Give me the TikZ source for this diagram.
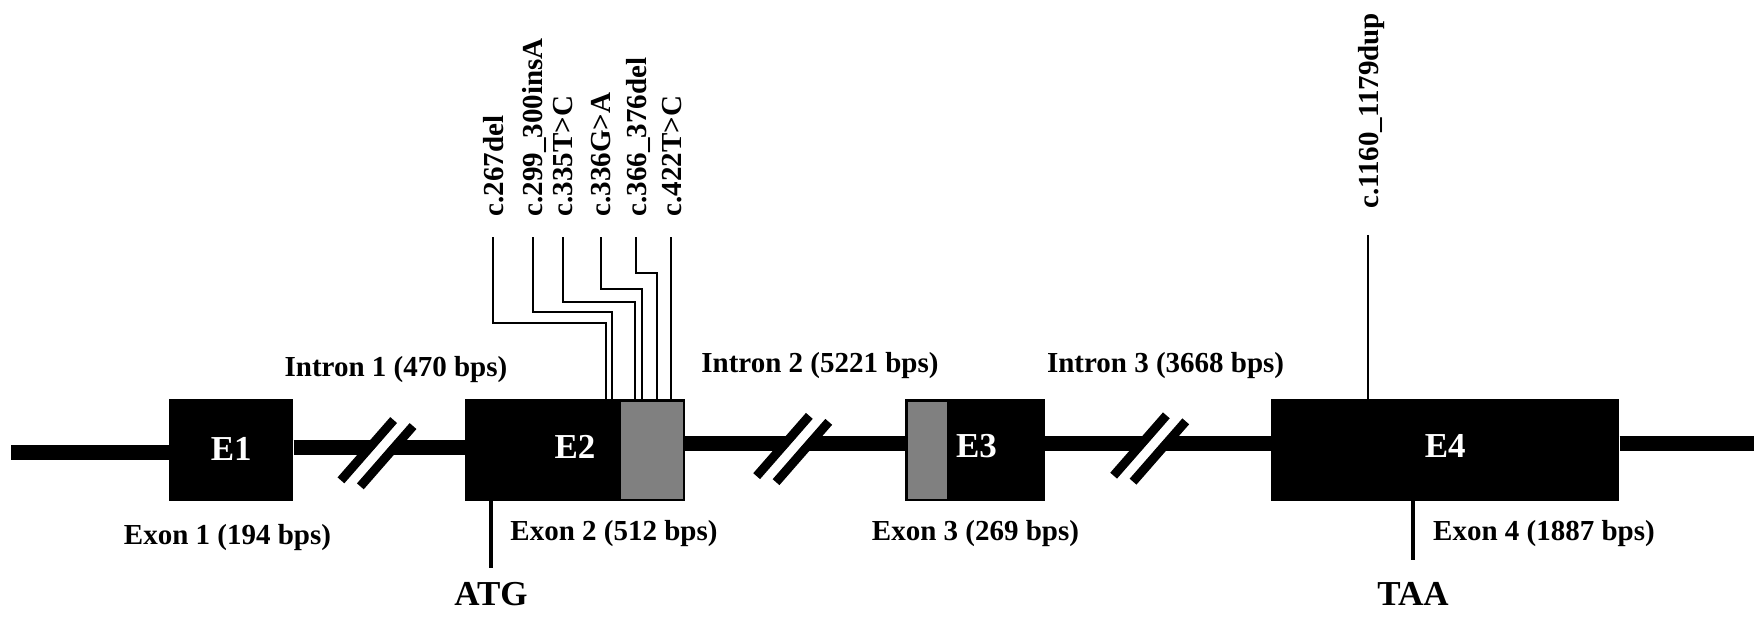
\documentclass[tikz,border=0pt]{standalone}
\usepackage{fontspec}
\setmainfont{Liberation Serif}
\definecolor{exgray}{RGB}{128,128,128}
\begin{document}
\begin{tikzpicture}[x=1pt,y=-1pt,
  exon/.style={fill=black, draw=none, inner sep=0pt, minimum height=102pt},
  etext/.style={text=white, inner sep=0pt, font=\fontsize{35}{37}\selectfont\bfseries},
  graypart/.style={fill=exgray, draw=none, inner sep=0pt, minimum height=97pt},
  backbone/.style={line width=15pt, line cap=butt},
  wire/.style={line width=2.3pt},
  codon/.style={line width=4.2pt},
  lbl/.style={font=\fontsize{29}{31}\selectfont\bfseries, inner sep=0pt, anchor=base},
  mut/.style={font=\fontsize{29}{31}\selectfont\bfseries, inner sep=0pt, rotate=90, anchor=west, text height=20pt, text depth=0pt},
  big/.style={font=\fontsize{35}{37}\selectfont\bfseries, inner sep=0pt, anchor=base},
  bar/.style={line width=9pt, line cap=butt},
  gapline/.style={line width=10pt, white, line cap=butt},
  pics/brk/.style={code={
    \draw[gapline] (-21.1,24.1) -- (21.1,-24.1);
    \draw[bar] (-36.05,27.15) -- (16.65,-33.15);
    \draw[bar] (-16.65,33.15) -- (36.05,-27.15);
  }}
]
\useasboundingbox (0,0) rectangle (1754,620);

% exon boxes
\node[exon, minimum width=124.3pt] (E1) at (231.2,450) {};
\node[exon, minimum width=220pt] (E2) at (575,450) {};
\node[graypart, minimum width=61.5pt] (E2g) at (651.75,450) {};
\node[exon, minimum width=140pt] (E3) at (975,450) {};
\node[graypart, minimum width=39.2pt] (E3g) at (927.1,450) {};
\node[exon, minimum width=348.3pt] (E4) at (1445.2,450) {};
\node[etext] (E1t) at (231.2,449) {E1};
\node[etext] (E2t) at (575,447) {E2};
\node[etext] (E3t) at (976.5,446) {E3};
\node[etext] (E4t) at (1445.2,446) {E4};

% backbone
\coordinate (start) at (11,452.5);
\coordinate (stop) at (1754,443.5);
\draw[backbone] (start) -- (E1.west |- start);
\draw[backbone] (E1.east |- 0,447) -- (E2.west |- 0,447);
\draw[backbone] (E2.east |- stop) -- (E3.west |- stop);
\draw[backbone] (E3.east |- stop) -- (E4.west |- stop);
\draw[backbone] (E4.east |- stop) -- (stop);

% breaks
\pic at (377,453.2) {brk};
\pic at (792.7,449) {brk};
\pic at (1149.7,448.5) {brk};

% intron / exon labels
\node[lbl] (i1) at (396,376) {Intron 1 (470 bps)};
\node[lbl] (i2) at (820,373) {Intron 2 (5221 bps)};
\node[lbl] (i3) at (1165.6,373) {Intron 3 (3668 bps)};
\node[lbl] (x1) at (227.5,544.5) {Exon 1 (194 bps)};
\node[lbl] (x2) at (614,540) {Exon 2 (512 bps)};
\node[lbl] (x3) at (975.5,540) {Exon 3 (269 bps)};
\node[lbl] (x4) at (1544,540) {Exon 4 (1887 bps)};

% start / stop codons
\node[big] (atg) at (491,605) {ATG};
\node[big] (taa) at (1413,605) {TAA};
\draw[codon] (E2.south -| atg) -- (491,568);
\draw[codon] (E4.south -| taa) -- (1413,560);

% mutations
\node[mut] (m1) at (493.3,216.7) {c.267del};
\node[mut] (m2) at (532.7,216.7) {c.299\_300insA};
\node[mut] (m3) at (562.7,216.7) {c.335T>C};
\node[mut] (m4) at (600.7,216.7) {c.336G>A};
\node[mut] (m5) at (636,216.7) {c.366\_376del};
\node[mut] (m6) at (671,216.7) {c.422T>C};
\node[mut] (m7) at (1368,209) {c.1160\_1179dup};

\draw[wire] ([yshift=-20.6pt]m1.west) |- (605.7,322.7) -- (E2.north -| 605.7,0);
\draw[wire] ([yshift=-20.6pt]m2.west) |- (612.3,312.3) -- (E2.north -| 612.3,0);
\draw[wire] ([yshift=-20.6pt]m3.west) |- (635,301.7) -- (E2.north -| 635,0);
\draw[wire] ([yshift=-20.6pt]m4.west) |- (641.7,289.3) -- (E2.north -| 641.7,0);
\draw[wire] ([yshift=-20.6pt]m5.west) |- (656.7,273.3) -- (E2.north -| 656.7,0);
\draw[wire] ([yshift=-20.6pt]m6.west) -- (E2.north -| m6.west);
\draw[wire] ([yshift=-26pt]m7.west) -- (E4.north -| m7.west);
\end{tikzpicture}
\end{document}
